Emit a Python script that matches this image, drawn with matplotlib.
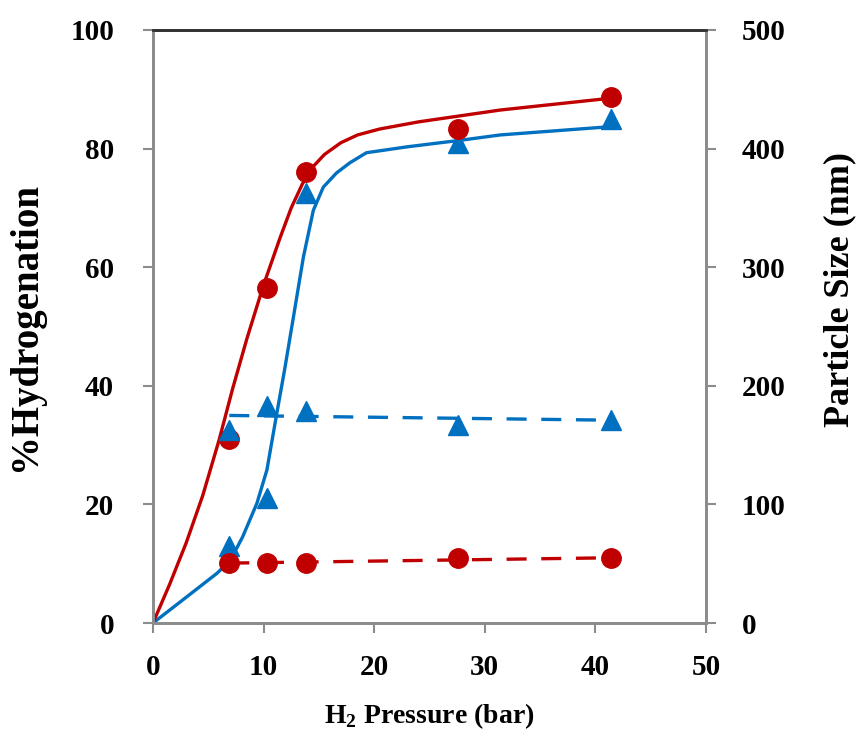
import matplotlib
matplotlib.use("Agg")
import matplotlib.pyplot as plt

plt.rcParams['font.family'] = ['Liberation Serif', 'DejaVu Serif']
plt.rcParams['font.weight'] = 'bold'
plt.rcParams['mathtext.fontset'] = 'custom'
plt.rcParams['mathtext.rm'] = 'Liberation Serif:bold'
plt.rcParams['mathtext.bf'] = 'Liberation Serif:bold'

RED = '#C00000'
BLUE = '#0070C0'
GRAY = '#8c8c8c'

# measured points
pressure = [6.9, 10.3, 13.8, 27.6, 41.4]
hydro_red = [31.0, 56.5, 76.0, 83.3, 88.7]
hydro_blue = [13.0, 21.0, 72.5, 81.0, 85.0]
size_red = [50.5, 50.5, 51.0, 54.5, 54.5]
size_blue = [163, 183, 179, 167, 171]

# fitted curves
fit_red_x = [0, 1.5, 3.0, 4.5, 6.0, 7.2, 8.5, 10.0, 11.5, 12.5, 13.5, 14.5, 15.5, 17.0, 18.5, 20.5, 24.0, 31.4, 41.4]
fit_red_y = [0, 6.5, 13.5, 21.5, 31.0, 39.5, 48.0, 57.0, 65.0, 70.0, 74.0, 77.0, 79.0, 81.0, 82.3, 83.3, 84.5, 86.5, 88.5]
fit_blue_x = [0, 2.7, 5.8, 7.0, 8.1, 9.4, 10.3, 11.2, 11.9, 12.7, 13.6, 14.5, 15.4, 16.6, 17.8, 19.3, 23.0, 27.8, 31.4, 41.4]
fit_blue_y = [0, 3.9, 8.4, 10.6, 14.5, 20.2, 25.8, 35.4, 42.7, 51.6, 61.7, 69.6, 73.5, 75.9, 77.6, 79.3, 80.3, 81.4, 82.3, 83.7]
size_fit_x = [6.9, 41.4]
size_fit_red = [50.5, 55.0]
size_fit_blue = [175, 171]

fig = plt.figure(figsize=(8.58, 7.40), dpi=100)
ax = fig.add_axes([0.1783, 0.1581, 0.6445, 0.8014])
ax2 = ax.twinx()

ax.plot(fit_blue_x, fit_blue_y, color=BLUE, lw=2.4, zorder=2)
ax.plot(fit_red_x, fit_red_y, color=RED, lw=2.4, zorder=2)
ax.plot(pressure, hydro_blue, ls='none', marker='^', ms=15, color=BLUE, zorder=3)
ax.plot(pressure, hydro_red, ls='none', marker='o', ms=14, color=RED, zorder=4)

ax2.plot(size_fit_x, size_fit_blue, color=BLUE, lw=2.4, dashes=(6, 4.4))
ax2.plot(pressure, size_blue, ls='none', marker='^', ms=15, color=BLUE)
ax2.plot(size_fit_x, size_fit_red, color=RED, lw=2.4, dashes=(6, 4.4))
ax2.plot(pressure, size_red, ls='none', marker='o', ms=14, color=RED)

ax.set_xlim(0, 50)
ax.set_ylim(0, 100)
ax2.set_ylim(0, 500)
ax.set_xticks([0, 10, 20, 30, 40, 50])
ax.set_yticks([0, 20, 40, 60, 80, 100])
ax2.set_yticks([0, 100, 200, 300, 400, 500])

for a in (ax, ax2):
    for side in ('left', 'right', 'bottom'):
        a.spines[side].set_color(GRAY)
        a.spines[side].set_linewidth(2)
    a.spines['top'].set_color('#333333')
    a.spines['top'].set_linewidth(2)
    a.tick_params(direction='out', length=7, width=1.5, color=GRAY, labelsize=21)

ax.tick_params(axis='y', pad=21)
ax.tick_params(axis='x', pad=15)
ax2.tick_params(axis='y', pad=19)

ax.set_ylabel('%Hydrogenation', fontsize=28, fontweight='bold', labelpad=19)
ax2.set_ylabel('Particle Size (nm)', fontsize=26, fontweight='bold', labelpad=27,
               y=0.563, ha='center')
ax.set_xlabel(r'$\mathbf{H}_\mathbf{2}$ Pressure (bar)', fontsize=20, fontweight='bold', labelpad=15)

fig.savefig('out.png', dpi=100)
